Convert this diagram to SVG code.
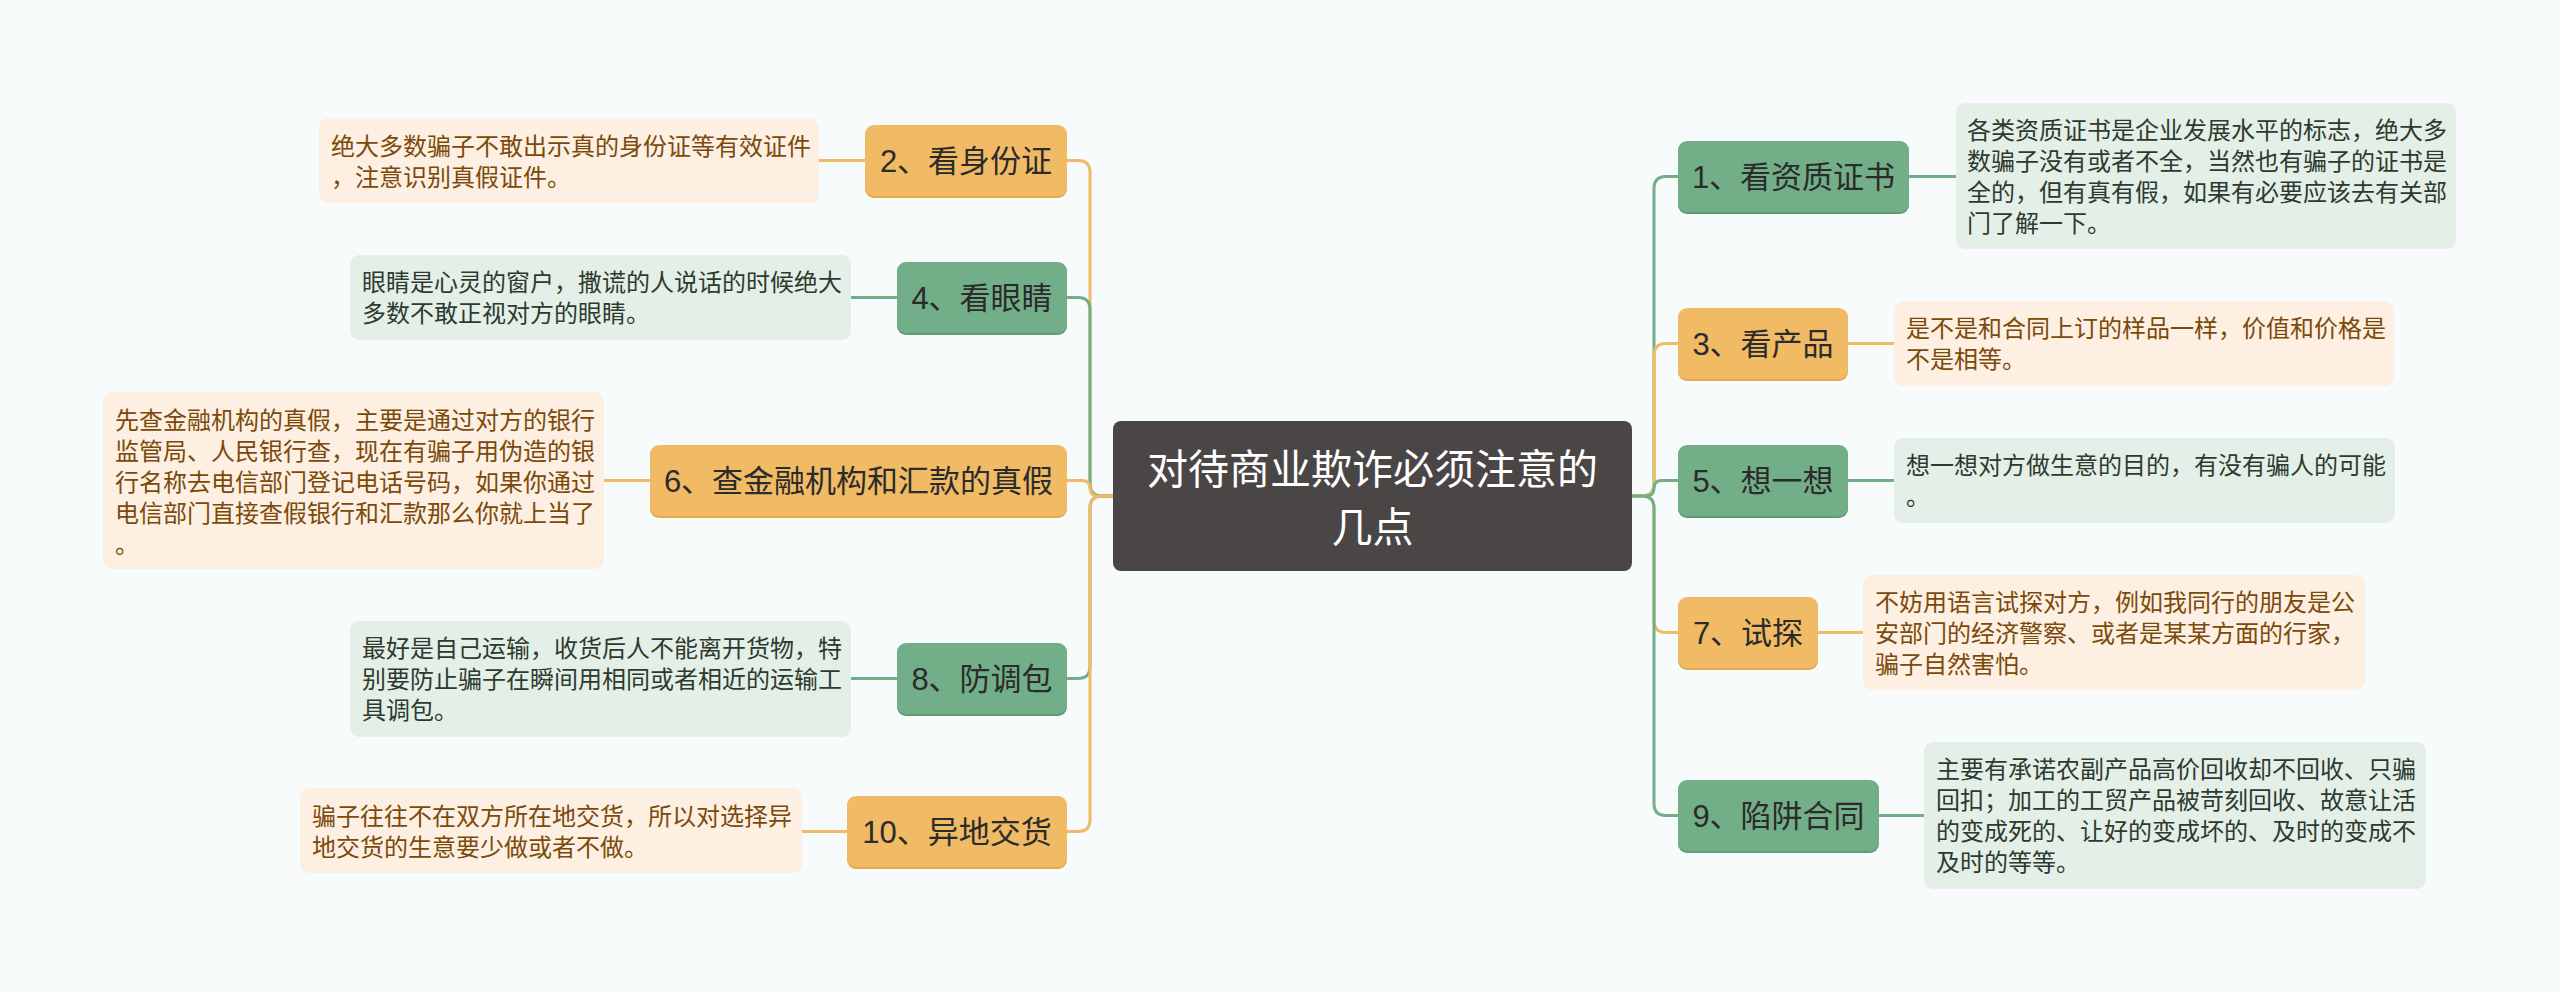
<svg xmlns="http://www.w3.org/2000/svg" width="2560" height="992" viewBox="0 0 2560 992">
<style>
text{font-family:"Liberation Sans","Noto Sans CJK SC",sans-serif;}
.root{fill:#4b4646;}
.rt{fill:#ffffff;font-size:41px;text-anchor:middle;}
.no{fill:#f1ba65;}
.ng{fill:#72ae87;}
.nsh-o{fill:#e3a84f;}
.nsh-g{fill:#5f9b74;}
.nt{fill:#2b2b2b;font-size:31px;text-anchor:middle;}
.do{fill:#fdefe1;}
.dg{fill:#e4efe7;}
.dto{fill:#7b4a0b;font-size:24px;}
.dtg{fill:#2d3a2f;font-size:24px;}
.co{fill:none;stroke:#f1ba65;stroke-width:3;}
.cg{fill:none;stroke:#72ae87;stroke-width:3;}
</style>
<rect x="0" y="0" width="2560" height="992" fill="#f7fbfc"/>

<g id="connectors">
  <path class="co" d="M1113 496 H1102 Q1090 496 1090 484 V172.5 Q1090 160.5 1078 160.5 H1067"/>
  <path class="cg" d="M1113 496 H1102 Q1090 496 1090 484 V309.5 Q1090 297.5 1078 297.5 H1067"/>
  <path class="co" d="M1113 496 H1098 Q1090 496 1090 488.25 Q1090 480.5 1082 480.5 H1067"/>
  <path class="cg" d="M1113 496 H1102 Q1090 496 1090 508 V666.5 Q1090 678.5 1078 678.5 H1067"/>
  <path class="co" d="M1113 496 H1102 Q1090 496 1090 508 V819.5 Q1090 831.5 1078 831.5 H1067"/>
  <path class="cg" d="M1632 496 H1642 Q1654 496 1654 484 V188.5 Q1654 176.5 1666 176.5 H1678"/>
  <path class="co" d="M1632 496 H1642 Q1654 496 1654 484 V355.5 Q1654 343.5 1666 343.5 H1678"/>
  <path class="cg" d="M1632 496 H1646 Q1654 496 1654 488.25 Q1654 480.5 1662 480.5 H1678"/>
  <path class="co" d="M1632 496 H1642 Q1654 496 1654 508 V620.5 Q1654 632.5 1666 632.5 H1678"/>
  <path class="cg" d="M1632 496 H1642 Q1654 496 1654 508 V803.5 Q1654 815.5 1666 815.5 H1678"/>
  <path class="co" d="M819 160.5 H865"/>
  <path class="cg" d="M851 297.5 H897"/>
  <path class="co" d="M604 480.5 H650"/>
  <path class="cg" d="M851 678.5 H897"/>
  <path class="co" d="M802 831.5 H847"/>
  <path class="cg" d="M1909 176.5 H1956"/>
  <path class="co" d="M1848 343.5 H1894"/>
  <path class="cg" d="M1848 480.5 H1894"/>
  <path class="co" d="M1818 632.5 H1863"/>
  <path class="cg" d="M1879 815.5 H1924"/>
</g>

<g id="root">
  <rect class="root" x="1113" y="421" width="519" height="150" rx="8"/>
  <text class="rt" x="1372.5" y="484">对待商业欺诈必须注意的</text>
  <text class="rt" x="1372.5" y="542">几点</text>
</g>

<g id="n2">
  <rect class="nsh-o" x="865" y="127" width="202" height="71" rx="9"/>
  <rect class="no" x="865" y="125" width="202" height="71" rx="9"/>
  <text class="nt" x="966" y="172">2、看身份证</text>
</g>
<g id="d2">
  <rect class="do" x="319" y="118" width="500" height="85" rx="9"/>
  <text class="dto" x="331" y="155">绝大多数骗子不敢出示真的身份证等有效证件</text>
  <text class="dto" x="331" y="186">，注意识别真假证件。</text>
</g>

<g id="n4">
  <rect class="nsh-g" x="897" y="264" width="170" height="71" rx="9"/>
  <rect class="ng" x="897" y="262" width="170" height="71" rx="9"/>
  <text class="nt" x="982" y="309">4、看眼睛</text>
</g>
<g id="d4">
  <rect class="dg" x="350" y="255" width="501" height="85" rx="9"/>
  <text class="dtg" x="362" y="291">眼睛是心灵的窗户，撒谎的人说话的时候绝大</text>
  <text class="dtg" x="362" y="322">多数不敢正视对方的眼睛。</text>
</g>

<g id="n6">
  <rect class="nsh-o" x="650" y="447" width="417" height="71" rx="9"/>
  <rect class="no" x="650" y="445" width="417" height="71" rx="9"/>
  <text class="nt" x="858.5" y="492">6、查金融机构和汇款的真假</text>
</g>
<g id="d6">
  <rect class="do" x="103" y="392" width="501" height="177" rx="9"/>
  <text class="dto" x="115" y="429">先查金融机构的真假，主要是通过对方的银行</text>
  <text class="dto" x="115" y="460">监管局、人民银行查，现在有骗子用伪造的银</text>
  <text class="dto" x="115" y="491">行名称去电信部门登记电话号码，如果你通过</text>
  <text class="dto" x="115" y="522">电信部门直接查假银行和汇款那么你就上当了</text>
  <text class="dto" x="115" y="553">。</text>
</g>

<g id="n8">
  <rect class="nsh-g" x="897" y="645" width="170" height="71" rx="9"/>
  <rect class="ng" x="897" y="643" width="170" height="71" rx="9"/>
  <text class="nt" x="982" y="690">8、防调包</text>
</g>
<g id="d8">
  <rect class="dg" x="350" y="621" width="501" height="116" rx="9"/>
  <text class="dtg" x="362" y="657">最好是自己运输，收货后人不能离开货物，特</text>
  <text class="dtg" x="362" y="688">别要防止骗子在瞬间用相同或者相近的运输工</text>
  <text class="dtg" x="362" y="719">具调包。</text>
</g>

<g id="n10">
  <rect class="nsh-o" x="847" y="798" width="220" height="71" rx="9"/>
  <rect class="no" x="847" y="796" width="220" height="71" rx="9"/>
  <text class="nt" x="957" y="843">10、异地交货</text>
</g>
<g id="d10">
  <rect class="do" x="300" y="788" width="502" height="85" rx="9"/>
  <text class="dto" x="312" y="825">骗子往往不在双方所在地交货，所以对选择异</text>
  <text class="dto" x="312" y="856">地交货的生意要少做或者不做。</text>
</g>

<g id="n1">
  <rect class="nsh-g" x="1678" y="143" width="231" height="71" rx="9"/>
  <rect class="ng" x="1678" y="141" width="231" height="71" rx="9"/>
  <text class="nt" x="1793.5" y="188">1、看资质证书</text>
</g>
<g id="d1">
  <rect class="dg" x="1956" y="103" width="500" height="146" rx="9"/>
  <text class="dtg" x="1967" y="139">各类资质证书是企业发展水平的标志，绝大多</text>
  <text class="dtg" x="1967" y="170">数骗子没有或者不全，当然也有骗子的证书是</text>
  <text class="dtg" x="1967" y="201">全的，但有真有假，如果有必要应该去有关部</text>
  <text class="dtg" x="1967" y="232">门了解一下。</text>
</g>

<g id="n3">
  <rect class="nsh-o" x="1678" y="310" width="170" height="71" rx="9"/>
  <rect class="no" x="1678" y="308" width="170" height="71" rx="9"/>
  <text class="nt" x="1763" y="355">3、看产品</text>
</g>
<g id="d3">
  <rect class="do" x="1894" y="301" width="500" height="85" rx="9"/>
  <text class="dto" x="1906" y="337">是不是和合同上订的样品一样，价值和价格是</text>
  <text class="dto" x="1906" y="368">不是相等。</text>
</g>

<g id="n5">
  <rect class="nsh-g" x="1678" y="447" width="170" height="71" rx="9"/>
  <rect class="ng" x="1678" y="445" width="170" height="71" rx="9"/>
  <text class="nt" x="1763" y="492">5、想一想</text>
</g>
<g id="d5">
  <rect class="dg" x="1894" y="438" width="501" height="85" rx="9"/>
  <text class="dtg" x="1906" y="474">想一想对方做生意的目的，有没有骗人的可能</text>
  <text class="dtg" x="1906" y="505">。</text>
</g>

<g id="n7">
  <rect class="nsh-o" x="1678" y="599" width="140" height="71" rx="9"/>
  <rect class="no" x="1678" y="597" width="140" height="71" rx="9"/>
  <text class="nt" x="1748" y="644">7、试探</text>
</g>
<g id="d7">
  <rect class="do" x="1863" y="575" width="502" height="115" rx="9"/>
  <text class="dto" x="1875" y="611">不妨用语言试探对方，例如我同行的朋友是公</text>
  <text class="dto" x="1875" y="642">安部门的经济警察、或者是某某方面的行家，</text>
  <text class="dto" x="1875" y="673">骗子自然害怕。</text>
</g>

<g id="n9">
  <rect class="nsh-g" x="1678" y="782" width="201" height="71" rx="9"/>
  <rect class="ng" x="1678" y="780" width="201" height="71" rx="9"/>
  <text class="nt" x="1778.5" y="827">9、陷阱合同</text>
</g>
<g id="d9">
  <rect class="dg" x="1924" y="742" width="502" height="147" rx="9"/>
  <text class="dtg" x="1936" y="778">主要有承诺农副产品高价回收却不回收、只骗</text>
  <text class="dtg" x="1936" y="809">回扣；加工的工贸产品被苛刻回收、故意让活</text>
  <text class="dtg" x="1936" y="840">的变成死的、让好的变成坏的、及时的变成不</text>
  <text class="dtg" x="1936" y="871">及时的等等。</text>
</g>
</svg>
